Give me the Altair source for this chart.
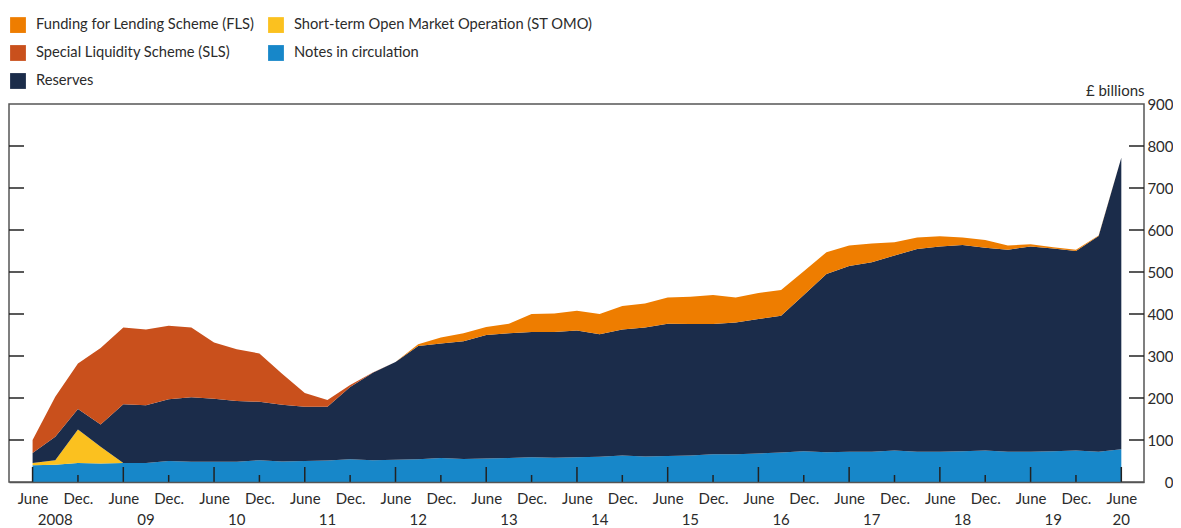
import altair as alt
import pandas as pd

# ---------------- data (quarterly, June 2008 = 0 ... June 2020 = 48) ----------------
quarters = list(range(49))

notes = [40, 41, 45, 44, 45, 45, 50, 48, 48, 48, 52, 49, 50, 51, 54, 52, 53, 54, 57, 55,
         56, 57, 59, 58, 59, 60, 63, 61, 62, 63, 66, 66, 68, 70, 73, 71, 72, 72, 75, 72,
         72, 73, 75, 72, 72, 73, 75, 72, 78]
st_omo = [5, 11, 80, 40] + [0] * 45
reserves = [24, 56, 49, 53, 140, 138, 147, 154, 150, 145, 139, 135, 129, 128, 172, 208, 233, 270, 273, 280,
            294, 297, 298, 299, 302, 292, 300, 307, 315, 313, 310, 314, 320, 326, 372, 424, 442, 451, 464, 483,
            489, 491, 483, 481, 489, 483, 475, 514, 694]
sls = [31, 95, 108, 182, 183, 180, 175, 166, 134, 123, 115, 74, 33, 16, 5, 1] + [0] * 33
fls = [0] * 17 + [4, 14, 19, 19, 23, 43, 44, 47, 48, 56, 57, 62, 65, 69, 59, 62, 61, 57, 52,
                  49, 45, 32, 27, 24, 18, 18, 10, 5, 3, 3, 1, 0]

# legend order (filled column by column: left column first)
series_names = ["Funding for Lending Scheme (FLS)",
                "Special Liquidity Scheme (SLS)",
                "Reserves",
                "Short-term Open Market Operation (ST OMO)",
                "Notes in circulation"]
series_colors = ["#EE7D00", "#C9501C", "#1B2C4A", "#FBC11F", "#1787C9"]

# stacking order, bottom to top
stack_order = [("Notes in circulation", notes),
               ("Short-term Open Market Operation (ST OMO)", st_omo),
               ("Reserves", reserves),
               ("Special Liquidity Scheme (SLS)", sls),
               ("Funding for Lending Scheme (FLS)", fls)]

x_label_positions = list(range(0, 49, 2))          # June / Dec.
june_ticks = list(range(0, 49, 4))
dec_ticks = list(range(2, 49, 4))
year_positions = [1, 5, 9, 13, 17, 21, 25, 29, 33, 37, 41, 45, 48]
year_labels = ["2008", "09", "10", "11", "12", "13", "14", "15", "16", "17", "18", "19", "20"]
y_label_values = [0, 100, 200, 300, 400, 500, 600, 700, 800, 900]
y_tick_values = [100, 200, 300, 400, 500, 600, 700, 800]

rows = []
for rank, (name, vals) in enumerate(stack_order):
    for q, v in zip(quarters, vals):
        rows.append({"q": q, "series": name, "value": v, "rank": rank})
df = pd.DataFrame(rows)

FONT = "Lato"
TXT = "#2b2b2b"
TICK = "#222222"
W, H = 1135, 378

xscale = alt.Scale(domain=[-1.04, 49.0], nice=False, zero=False)
yscale = alt.Scale(domain=[0, 900], nice=False, zero=True)

xaxis = alt.Axis(values=x_label_positions,
                 labelExpr="datum.value % 4 == 0 ? 'June' : 'Dec.'",
                 title=None, grid=False, ticks=False, domain=True,
                 domainColor="#555555", domainWidth=1.5, zindex=1,
                 labelFont=FONT, labelFontSize=15, labelColor=TXT,
                 labelPadding=9, labelFlush=False, labelOverlap=False)
yaxis = alt.Axis(orient="right", values=y_label_values, title="£ billions",
                 titleAngle=0, titleAlign="right", titleBaseline="middle",
                 titleX=0, titleY=-14, titleFont=FONT, titleFontSize=15,
                 titleFontWeight="normal", titleColor=TXT,
                 grid=False, ticks=False, tickSize=0, domain=False,
                 labelAlign="right", labelPadding=29, labelBaseline="middle",
                 labelFont=FONT, labelFontSize=15, labelColor=TXT,
                 labelFlush=False, labelOverlap=False)

area = alt.Chart(df).mark_area(interpolate="linear", opacity=1).encode(
    x=alt.X("q:Q", scale=xscale, axis=xaxis),
    y=alt.Y("value:Q", stack="zero", scale=yscale, axis=yaxis),
    color=alt.Color("series:N",
                    scale=alt.Scale(domain=series_names, range=series_colors),
                    legend=alt.Legend(title=None, orient="none", legendX=1, legendY=-87,
                                      columns=2, symbolType="square", symbolSize=250,
                                      symbolStrokeWidth=0, symbolOpacity=1,
                                      labelFont=FONT, labelFontSize=14.7, labelColor=TXT,
                                      labelOffset=10, rowPadding=12, columnPadding=13,
                                      labelLimit=500, padding=0)),
    order=alt.Order("rank:Q", sort="ascending"),
)

ytick_df = pd.DataFrame({"value": y_tick_values})
left_ticks = alt.Chart(ytick_df).mark_rule(color=TICK, strokeWidth=1.5).encode(
    y=alt.Y("value:Q", scale=yscale, axis=yaxis),
    x=alt.value(0), x2=alt.value(15),
)
right_ticks = alt.Chart(ytick_df).mark_rule(color=TICK, strokeWidth=1.5).encode(
    y=alt.Y("value:Q", scale=yscale, axis=yaxis),
    x=alt.value(W - 15), x2=alt.value(W),
)
june_rules = alt.Chart(pd.DataFrame({"q": june_ticks})).mark_rule(color=TICK, strokeWidth=1.5).encode(
    x=alt.X("q:Q", scale=xscale, axis=xaxis),
    y=alt.value(H), y2=alt.value(H - 15),
)
dec_rules = alt.Chart(pd.DataFrame({"q": dec_ticks})).mark_rule(color=TICK, strokeWidth=1.5).encode(
    x=alt.X("q:Q", scale=xscale, axis=xaxis),
    y=alt.value(H), y2=alt.value(H - 7),
)
years = alt.Chart(pd.DataFrame({"q": year_positions, "label": year_labels})).mark_text(
    font=FONT, fontSize=15, color=TXT, align="center", baseline="middle"
).encode(
    x=alt.X("q:Q", scale=xscale, axis=xaxis),
    y=alt.value(H + 38),
    text="label:N",
)

chart = alt.layer(area, left_ticks, right_ticks, june_rules, dec_rules, years).properties(
    width=W, height=H,
    autosize=alt.AutoSizeParams(type="none"),
    padding={"left": 1, "top": 96, "right": 29, "bottom": 46},
).configure_view(stroke="#555555", strokeWidth=1.5)

chart.save("out.html", embed_options={"renderer": "svg", "actions": False})
